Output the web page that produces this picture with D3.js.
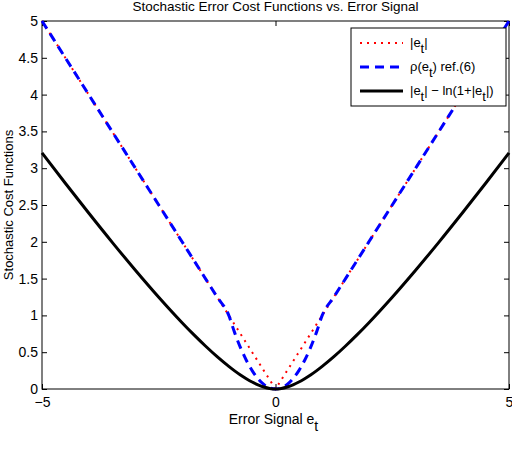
<!DOCTYPE html>
<html>
<head>
<meta charset="utf-8">
<script src="https://cdn.jsdelivr.net/npm/d3@7"></script>
<style>
  body { margin: 0; background: #fff; }
  text { font-family: "Liberation Sans", Arial, Helvetica, sans-serif; }
</style>
</head>
<body>
<svg id="chart" width="512" height="460"></svg>
<script>
// error signal samples
var errVals = [-5, -4.5, -4, -3.5, -3, -2.5, -2, -1.75, -1.5, -1.25, -1, -0.875, -0.75, -0.625, -0.5, -0.375, -0.25, -0.125, 0,
               0.125, 0.25, 0.375, 0.5, 0.625, 0.75, 0.875, 1, 1.25, 1.5, 1.75, 2, 2.5, 3, 3.5, 4, 4.5, 5];

// |e_t|
var absVals = [5, 4.5, 4, 3.5, 3, 2.5, 2, 1.75, 1.5, 1.25, 1, 0.875, 0.75, 0.625, 0.5, 0.375, 0.25, 0.125, 0,
               0.125, 0.25, 0.375, 0.5, 0.625, 0.75, 0.875, 1, 1.25, 1.5, 1.75, 2, 2.5, 3, 3.5, 4, 4.5, 5];

// rho(e_t) ref.(6)
var rhoVals = [5, 4.5, 4, 3.5, 3, 2.5, 2, 1.75, 1.5, 1.25, 1, 0.766, 0.5625, 0.391, 0.25, 0.141, 0.0625, 0.0156, 0,
               0.0156, 0.0625, 0.141, 0.25, 0.391, 0.5625, 0.766, 1, 1.25, 1.5, 1.75, 2, 2.5, 3, 3.5, 4, 4.5, 5];

// |e_t| - ln(1+|e_t|)
var logVals = [3.208, 2.795, 2.391, 1.996, 1.614, 1.247, 0.901, 0.738, 0.584, 0.439, 0.307, 0.246, 0.190, 0.140, 0.0945, 0.0565, 0.0269, 0.0072, 0,
               0.0072, 0.0269, 0.0565, 0.0945, 0.140, 0.190, 0.246, 0.307, 0.439, 0.584, 0.738, 0.901, 1.247, 1.614, 1.996, 2.391, 2.795, 3.208];

var xTicks = [-5, 0, 5];
var yTicks = [0, 0.5, 1, 1.5, 2, 2.5, 3, 3.5, 4, 4.5, 5];

var margin = {left: 42, top: 21, right: 3, bottom: 71};
var width = 512 - margin.left - margin.right;   // 467
var height = 460 - margin.top - margin.bottom;  // 368

var svg = d3.select("#chart");
var g = svg.append("g").attr("transform", `translate(${margin.left},${margin.top})`);

var x = d3.scaleLinear().domain([-5, 5]).range([0, width]);
var y = d3.scaleLinear().domain([0, 5]).range([height, 0]);

// axes (ticks pointing inward, mirrored like matlab box)
function styleAxis(sel) {
    sel.select(".domain").remove();
    sel.selectAll("line").attr("stroke", "#000");
    sel.selectAll("text").attr("fill", "#000").style("font-size", "14px");
}

g.append("g")
    .attr("transform", `translate(0,${height})`)
    .call(d3.axisBottom(x).tickValues(xTicks).tickSizeInner(-5).tickSizeOuter(0).tickPadding(8).tickFormat(d => d < 0 ? "\u2212" + Math.abs(d) : String(d)))
    .call(styleAxis);

g.append("g")
    .call(d3.axisTop(x).tickValues(xTicks).tickSizeInner(-5).tickSizeOuter(0).tickFormat(""))
    .call(styleAxis);

g.append("g")
    .call(d3.axisLeft(y).tickValues(yTicks).tickSizeInner(-5).tickSizeOuter(0).tickPadding(4).tickFormat(d => String(d)))
    .call(styleAxis);

g.append("g")
    .attr("transform", `translate(${width},0)`)
    .call(d3.axisRight(y).tickValues(yTicks).tickSizeInner(-5).tickSizeOuter(0).tickFormat(""))
    .call(styleAxis);

// box
g.append("rect")
    .attr("width", width).attr("height", height)
    .attr("fill", "none").attr("stroke", "#000").attr("stroke-width", 1);

// lines
var series = [
    {vals: absVals, color: "#ff0000", width: 2, dash: "2,5", curve: d3.curveLinear},
    {vals: rhoVals, color: "#0000ff", width: 3, dash: "9,6", curve: d3.curveMonotoneX},
    {vals: logVals, color: "#000000", width: 3, dash: null, curve: d3.curveMonotoneX}
];

series.forEach(function (s) {
    var line = d3.line()
        .x((d, i) => x(errVals[i]))
        .y(d => y(d))
        .curve(s.curve);
    g.append("path")
        .datum(s.vals)
        .attr("d", line)
        .attr("fill", "none")
        .attr("stroke", s.color)
        .attr("stroke-width", s.width)
        .attr("stroke-dasharray", s.dash);
});

// title and labels
svg.append("text")
    .attr("x", margin.left + width / 2)
    .attr("y", 11)
    .attr("text-anchor", "middle")
    .style("font-size", "13.5px")
    .text("Stochastic Error Cost Functions vs. Error Signal");

var xl = svg.append("text")
    .attr("x", margin.left + width / 2 - 2)
    .attr("y", 424)
    .attr("text-anchor", "middle")
    .style("font-size", "14px");
xl.append("tspan").text("Error Signal e");
xl.append("tspan").attr("dy", 7).text("t");

svg.append("text")
    .attr("transform", `translate(13,${margin.top + height / 2}) rotate(-90)`)
    .attr("text-anchor", "middle")
    .style("font-size", "13px")
    .text("Stochastic Cost Functions");

// legend
var lg = svg.append("g").attr("transform", "translate(351,28)");
lg.append("rect")
    .attr("width", 155).attr("height", 78)
    .attr("fill", "#fff").attr("stroke", "#000").attr("stroke-width", 1);

var legendRows = [
    [["|e", 0], ["t", 6], ["|", -6]],
    [["\u03c1(e", 0], ["t", 6], [") ref.(6)", -6]],
    [["|e", 0], ["t", 6], ["| \u2212 ln(1+|e", -6], ["t", 6], ["|)", -6]]
];

legendRows.forEach(function (parts, i) {
    var s = series[i];
    var cy = 15 + i * 24;
    lg.append("line")
        .attr("x1", 9).attr("x2", 52)
        .attr("y1", cy).attr("y2", cy)
        .attr("stroke", s.color)
        .attr("stroke-width", s.width)
        .attr("stroke-dasharray", s.dash);
    var t = lg.append("text")
        .attr("x", 59)
        .attr("y", cy + 4)
        .style("font-size", "13px");
    parts.forEach(function (p) {
        t.append("tspan").attr("dy", p[1]).text(p[0]);
    });
});
</script>
</body>
</html>
